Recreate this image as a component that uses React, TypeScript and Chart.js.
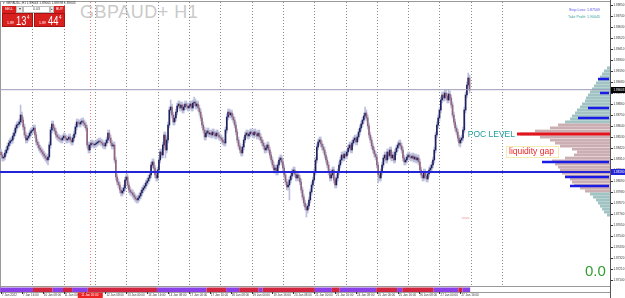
import React, { useEffect, useRef } from 'react';
import { Chart, registerables } from 'chart.js';

Chart.register(...registerables);

// ---------------- data ----------------
const SYMBOL = 'GBPAUD+';
const PERIOD = 'H1';
const HEADER_QUOTES = ['1.89043', '1.89065', '1.88998', '1.89003'];
const YEAR = '2022';
const TRADING_DAYS = ['7 Jan', '10 Jan', '11 Jan', '12 Jan', '13 Jan', '14 Jan', '17 Jan', '18 Jan', '19 Jan', '20 Jan', '21 Jan', '24 Jan', '25 Jan', '26 Jan', '27 Jan'];

const FIRST_OPEN = 1.8838;
const closes07 = [1.8835, 1.8832, 1.8833, 1.8837, 1.8840, 1.8844, 1.8847, 1.8849, 1.8850, 1.8854, 1.8857, 1.8862, 1.8865, 1.8866, 1.8868, 1.8875, 1.8870, 1.8863, 1.8855, 1.8850, 1.8852, 1.8854, 1.8857, 1.8859];
const closes10 = [1.8860, 1.8862, 1.8855, 1.8848, 1.8845, 1.8842, 1.8840, 1.8838, 1.8836, 1.8834, 1.8832, 1.8830, 1.8833, 1.8845, 1.8860, 1.8866, 1.8862, 1.8859, 1.8855, 1.8853, 1.8852, 1.8851, 1.8850, 1.8852];
const closes11 = [1.8854, 1.8852, 1.8850, 1.8851, 1.8853, 1.8850, 1.8848, 1.8852, 1.8856, 1.8863, 1.8868, 1.8867, 1.8866, 1.8868, 1.8869, 1.8867, 1.8865, 1.8862, 1.8845, 1.8840, 1.8845, 1.8847, 1.8846, 1.8845];
const closes12 = [1.8846, 1.8847, 1.8848, 1.8849, 1.8848, 1.8847, 1.8845, 1.8844, 1.8847, 1.8850, 1.8857, 1.8852, 1.8847, 1.8844, 1.8845, 1.8830, 1.8813, 1.8808, 1.8805, 1.8800, 1.8797, 1.8799, 1.8802, 1.8810];
const closes13 = [1.8813, 1.8805, 1.8800, 1.8798, 1.8797, 1.8795, 1.8793, 1.8791, 1.8790, 1.8792, 1.8794, 1.8797, 1.8800, 1.8802, 1.8804, 1.8807, 1.8809, 1.8812, 1.8815, 1.8825, 1.8828, 1.8822, 1.8815, 1.8812];
const closes14 = [1.8820, 1.8830, 1.8838, 1.8835, 1.8845, 1.8855, 1.8840, 1.8850, 1.8865, 1.8880, 1.8883, 1.8875, 1.8868, 1.8872, 1.8878, 1.8884, 1.8886, 1.8882, 1.8885, 1.8880, 1.8883, 1.8886, 1.8884, 1.8882];
const closes17 = [1.8884, 1.8886, 1.8882, 1.8887, 1.8888, 1.8884, 1.8886, 1.8882, 1.8878, 1.8872, 1.8865, 1.8860, 1.8853, 1.8857, 1.8859, 1.8856, 1.8857, 1.8855, 1.8858, 1.8856, 1.8854, 1.8857, 1.8855, 1.8853];
const closes18 = [1.8852, 1.8850, 1.8848, 1.8847, 1.8860, 1.8873, 1.8878, 1.8875, 1.8877, 1.8873, 1.8870, 1.8865, 1.8858, 1.8850, 1.8844, 1.8840, 1.8837, 1.8843, 1.8850, 1.8855, 1.8857, 1.8854, 1.8856, 1.8858];
const closes19 = [1.8857, 1.8855, 1.8858, 1.8856, 1.8854, 1.8857, 1.8853, 1.8850, 1.8847, 1.8844, 1.8840, 1.8842, 1.8845, 1.8840, 1.8835, 1.8830, 1.8825, 1.8820, 1.8822, 1.8818, 1.8825, 1.8830, 1.8832, 1.8828];
const closes20 = [1.8822, 1.8815, 1.8808, 1.8803, 1.8805, 1.8810, 1.8814, 1.8818, 1.8820, 1.8816, 1.8812, 1.8815, 1.8812, 1.8808, 1.8800, 1.8793, 1.8787, 1.8783, 1.8780, 1.8784, 1.8790, 1.8798, 1.8805, 1.8810];
const closes21 = [1.8818, 1.8830, 1.8843, 1.8848, 1.8850, 1.8846, 1.8843, 1.8840, 1.8835, 1.8830, 1.8825, 1.8818, 1.8812, 1.8815, 1.8820, 1.8810, 1.8805, 1.8812, 1.8818, 1.8825, 1.8830, 1.8835, 1.8832, 1.8836];
const closes24 = [1.8834, 1.8838, 1.8842, 1.8845, 1.8840, 1.8847, 1.8850, 1.8852, 1.8848, 1.8853, 1.8858, 1.8862, 1.8866, 1.8870, 1.8874, 1.8877, 1.8872, 1.8864, 1.8855, 1.8850, 1.8844, 1.8840, 1.8836, 1.8833];
const closes25 = [1.8825, 1.8815, 1.8812, 1.8818, 1.8825, 1.8832, 1.8835, 1.8830, 1.8838, 1.8834, 1.8840, 1.8832, 1.8835, 1.8830, 1.8838, 1.8842, 1.8845, 1.8847, 1.8844, 1.8840, 1.8832, 1.8828, 1.8830, 1.8833];
const closes26 = [1.8835, 1.8833, 1.8832, 1.8834, 1.8831, 1.8833, 1.8830, 1.8832, 1.8828, 1.8820, 1.8815, 1.8812, 1.8818, 1.8814, 1.8811, 1.8816, 1.8820, 1.8822, 1.8825, 1.8830, 1.8840, 1.8855, 1.8865, 1.8872];
const closes27 = [1.8880, 1.8890, 1.8895, 1.8892, 1.8897, 1.8894, 1.8890, 1.8896, 1.8892, 1.8885, 1.8875, 1.8868, 1.8862, 1.8858, 1.8852, 1.8847, 1.8850, 1.8852, 1.8860, 1.8880, 1.8895, 1.8905, 1.8912, 1.8900];

// bars whose wick reaches notably further than usual
const HIGH_SPIKES: Record<number, number> = { 15: 1.8885, 130: 1.8890, 148: 1.8893, 279: 1.8883, 343: 1.8900, 358: 1.8917 };
const LOW_SPIKES: Record<number, number> = { 36: 1.8825, 126: 1.8832, 221: 1.8790, 234: 1.8773, 289: 1.8807, 352: 1.8843 };
const WICK = 0.0003;

const CURRENT_PRICE = 1.89003;
const SUPPORT_LEVEL = 1.8818;
const POC_LEVEL = 1.8856;
const GAP_LEVEL = 1.88385;
const MARK_LEVEL = 1.8772;
const MARK_BARS = [353, 359];
const STOP_LOSS = '1.87509';
const TAKE_PROFIT = '1.90045';
const PROFIT = '0.0';
const LOT = '0.03';
const SELL_PRICE = ['1.89', '13', '4'];
const BUY_PRICE = ['1.89', '44', '4'];
const VLINE_BAR = 68;
const VLINE_LABEL = '11 Jan 20:00';

// volume profile (rows from PROFILE_HIGH downwards)
const PROFILE_HIGH = 1.8922;
const PROFILE_STEP = 0.0003;
const profileVolumes = [3, 6, 8, 10, 12, 14, 16, 18, 20, 22, 24, 25, 28, 30, 33, 35, 38, 40, 45, 52, 60, 75, 90, 70, 60, 55, 50, 38, 33, 36, 45, 58, 55, 52, 50, 48, 45, 40, 38, 36, 30, 25, 20, 17, 14, 12, 10, 8, 6, 3];
const VALUE_AREA_LOW = 1.8798;
const VALUE_AREA_HIGH = 1.8866;
const POC_VOLUME = 93;
const nodeLevels = [1.8911, 1.8897, 1.8882, 1.8872, 1.8828, 1.8813, 1.8804];
const nodeVolumes = [12, 10, 22, 32, 68, 45, 40];

const yTickValues = [1.8985, 1.8974, 1.8963, 1.8952, 1.8941, 1.8930, 1.8919, 1.8908, 1.8897, 1.8886, 1.8875, 1.8864, 1.8853, 1.8842, 1.8831, 1.8820, 1.8809, 1.8798, 1.8787, 1.8776, 1.8765, 1.8754, 1.8743, 1.8732, 1.8721, 1.8710];

// trend indicator strip: [startBar, endBar, direction]
const trendSegments: [number, number, string][] = [
  [0, 25, 'dn'], [25, 40, 'up'], [40, 48, 'dn'], [48, 55, 'up'], [55, 67, 'dn'], [67, 120, 'up'],
  [120, 158, 'dn'], [158, 173, 'up'], [173, 183, 'dn'], [183, 198, 'up'], [198, 201, 'dn'], [201, 241, 'up'],
  [241, 254, 'dn'], [254, 260, 'up'], [260, 288, 'dn'], [288, 304, 'up'], [304, 308, 'dn'], [308, 332, 'up'],
  [332, 351, 'dn'], [351, 354, 'up'], [354, 360, 'dn'],
];

// ---------------- derived ----------------
const closes = [...closes07, ...closes10, ...closes11, ...closes12, ...closes13, ...closes14, ...closes17, ...closes18, ...closes19, ...closes20, ...closes21, ...closes24, ...closes25, ...closes26, ...closes27];
const candles = closes.map((c, i) => {
  const o = i === 0 ? FIRST_OPEN : closes[i - 1];
  const h = HIGH_SPIKES[i] ?? Math.max(o, c) + WICK;
  const l = LOW_SPIKES[i] ?? Math.min(o, c) - WICK;
  return { i, o, h, l, c };
});
const barLabel = (i: number) => {
  const day = TRADING_DAYS[Math.floor(i / 24)];
  if (i === 0) return `${day} ${YEAR}`;
  return `${day} ${String(i % 24).padStart(2, '0')}:00`;
};

const F = '"Liberation Sans", Arial, sans-serif';
const BULL = '#1f215e';
const BEAR = '#93647d';
const WICK_COLOR = '#bcc0dc';

const mtPlugin = {
  id: 'mtDecor',
  beforeDatasetsDraw(chart: any) {
    const { ctx, chartArea: a, scales } = chart;
    const x = scales.x, y = scales.y, vol = scales.vol;
    ctx.save();
    // frame
    ctx.strokeStyle = '#9a9a9a';
    ctx.lineWidth = 1;
    ctx.beginPath();
    ctx.moveTo(0.5, a.top); ctx.lineTo(0.5, 292);
    ctx.moveTo(0, 1.5); ctx.lineTo(a.right, 1.5);
    ctx.stroke();
    // day grid
    ctx.strokeStyle = '#8a8a8a';
    ctx.setLineDash([1, 2]);
    for (let b = 24; b <= 384; b += 24) {
      const px = Math.round(x.getPixelForValue(b)) + 0.5;
      ctx.beginPath(); ctx.moveTo(px, a.top); ctx.lineTo(px, a.bottom); ctx.stroke();
    }
    // vertical line (red dotted)
    ctx.strokeStyle = '#f07878';
    const vx = Math.round(x.getPixelForValue(VLINE_BAR)) + 0.5;
    ctx.beginPath(); ctx.moveTo(vx, a.top); ctx.lineTo(vx, a.bottom); ctx.stroke();
    ctx.setLineDash([]);
    // volume profile
    profileVolumes.forEach((v, k) => {
      const p = PROFILE_HIGH - k * PROFILE_STEP;
      const t = y.getPixelForValue(p + PROFILE_STEP / 2);
      const bt = y.getPixelForValue(p - PROFILE_STEP / 2);
      const l = vol.getPixelForValue(v);
      const r = vol.getPixelForValue(0);
      const inVA = p >= VALUE_AREA_LOW && p <= VALUE_AREA_HIGH;
      ctx.fillStyle = inVA ? '#cbaeb1' : '#a2c3c3';
      ctx.fillRect(l, t, r - l, bt - t);
      if (inVA && k % 3 === 0) {
        ctx.fillStyle = 'rgba(255,255,255,0.3)';
        ctx.fillRect(l, Math.round(t), r - l, 1);
      }
    });
    ctx.restore();
  },
  afterDatasetsDraw(chart: any) {
    const { ctx, chartArea: a, scales } = chart;
    const x = scales.x, y = scales.y, vol = scales.vol;
    ctx.save();
    const hline = (p: number, x0: number, x1: number, color: string, w: number) => {
      const py = y.getPixelForValue(p);
      ctx.strokeStyle = color; ctx.lineWidth = w;
      ctx.beginPath(); ctx.moveTo(x0, py); ctx.lineTo(x1, py); ctx.stroke();
    };
    hline(CURRENT_PRICE, a.left, a.right, '#9a9ab8', 1);
    hline(SUPPORT_LEVEL, a.left, a.right, '#2323d8', 2);
    hline(POC_LEVEL, vol.getPixelForValue(POC_VOLUME), a.right, '#e3141c', 3);
    nodeLevels.forEach((p, k) => hline(p, vol.getPixelForValue(nodeVolumes[k]), a.right - 1, '#1b1be6', 2.5));
    hline(MARK_LEVEL, x.getPixelForValue(MARK_BARS[0]), x.getPixelForValue(MARK_BARS[1]), '#f4b0b0', 1);

    ctx.textBaseline = 'middle';
    ctx.font = `8.5px ${F}`;
    ctx.fillStyle = '#1f9c9c';
    ctx.textAlign = 'right';
    ctx.fillText('POC LEVEL', vol.getPixelForValue(POC_VOLUME) - 2, y.getPixelForValue(POC_LEVEL) + 0.5);
    const gy = y.getPixelForValue(GAP_LEVEL);
    ctx.strokeStyle = '#f3eeb0'; ctx.lineWidth = 1;
    ctx.strokeRect(506.5, Math.round(gy) - 5.5, 52, 11);
    ctx.fillStyle = '#e8282a';
    ctx.textAlign = 'left';
    ctx.fillText('liquidity gap', 509, gy + 0.5);
    ctx.restore();
  },
  afterDraw(chart: any) {
    const { ctx, chartArea: a, scales } = chart;
    const x = scales.x, y = scales.y;
    ctx.save();
    // price axis
    ctx.strokeStyle = '#555'; ctx.lineWidth = 1;
    ctx.beginPath(); ctx.moveTo(a.right + 0.5, 0); ctx.lineTo(a.right + 0.5, 298); ctx.stroke();
    ctx.font = `3px ${F}`;
    ctx.fillStyle = '#333';
    ctx.textAlign = 'left'; ctx.textBaseline = 'middle';
    yTickValues.forEach((v) => {
      const py = y.getPixelForValue(v);
      ctx.fillRect(a.right + 1, Math.round(py), 2, 1);
      ctx.fillText(v.toFixed(5), a.right + 3.5, py);
    });
    const box = (p: number, bg: string, label: string) => {
      const py = Math.round(y.getPixelForValue(p));
      ctx.fillStyle = bg;
      ctx.fillRect(a.right + 1, py - 3, 15, 6);
      ctx.fillStyle = '#fff';
      ctx.fillText(label, a.right + 3.5, py);
    };
    box(CURRENT_PRICE, '#000', CURRENT_PRICE.toFixed(5));
    box(SUPPORT_LEVEL, '#2323d8', SUPPORT_LEVEL.toFixed(5));

    // indicator strip
    ctx.strokeStyle = '#999';
    ctx.beginPath();
    ctx.moveTo(0, 286.5); ctx.lineTo(a.right, 286.5);
    ctx.moveTo(0, 292.5); ctx.lineTo(a.right, 292.5);
    ctx.stroke();
    trendSegments.forEach(([s, e, d]) => {
      const x0 = x.getPixelForValue(s - 0.5);
      const x1 = x.getPixelForValue(e - 0.5);
      ctx.fillStyle = d === 'up' ? '#d0243f' : '#8a40e6';
      ctx.fillRect(x0, 287.5, x1 - x0, 4.5);
    });

    // time axis
    ctx.font = `3px ${F}`;
    ctx.fillStyle = '#333';
    ctx.textAlign = 'left'; ctx.textBaseline = 'middle';
    for (let i = 0; i < closes.length; i += 16) {
      const px = x.getPixelForValue(i);
      ctx.fillRect(Math.round(px), 292, 1, 2);
      ctx.fillText(barLabel(i), px + 1, 295.5);
    }
    const vx = x.getPixelForValue(VLINE_BAR);
    ctx.fillStyle = '#ee2222';
    ctx.fillRect(vx - 12, 292.5, 25, 5.5);
    ctx.fillStyle = '#fff';
    ctx.textAlign = 'center';
    ctx.fillText(VLINE_LABEL, vx, 295.5);
    ctx.restore();
  },
};

const redBox: React.CSSProperties = { position: 'absolute', background: '#d8201e', color: '#fff', boxSizing: 'border-box' };

function PriceBox({ left, parts }: { left: number; parts: string[] }) {
  return (
    <div style={{ ...redBox, left, top: 13, width: 31, height: 14, border: '1px solid #a51212' }}>
      <span style={{ position: 'absolute', left: 4, top: 7, fontSize: 3.5, lineHeight: '4px' }}>{parts[0]}</span>
      <span style={{ position: 'absolute', left: 13, top: 0, fontSize: 13, lineHeight: '13px', transform: 'scaleX(0.72)', transformOrigin: 'left top' }}>{parts[1]}</span>
      <span style={{ position: 'absolute', left: 24, top: 1, fontSize: 4.5, lineHeight: '5px' }}>{parts[2]}</span>
    </div>
  );
}

export default function App() {
  const ref = useRef<HTMLCanvasElement>(null);
  useEffect(() => {
    document.body.style.margin = '0';
    const chart = new Chart(ref.current as HTMLCanvasElement, {
      type: 'bar',
      data: {
        datasets: [
          {
            label: 'bodies',
            data: candles.map((k) => ({ x: k.i, y: [k.o, k.c] })) as any,
            backgroundColor: candles.map((k) => (k.c >= k.o ? BULL : BEAR)),
            barThickness: 1,
            minBarLength: 1,
            grouped: false,
            borderWidth: 0,
            order: 1,
          } as any,
          {
            label: 'wicks',
            data: candles.map((k) => ({ x: k.i, y: [k.l, k.h] })) as any,
            backgroundColor: WICK_COLOR,
            barThickness: 1,
            grouped: false,
            borderWidth: 0,
            order: 2,
          } as any,
        ],
      },
      options: {
        animation: false,
        responsive: false,
        events: [],
        layout: { padding: { left: 0, top: 2, right: 15, bottom: 12 } },
        scales: {
          x: { type: 'linear', min: -0.77, max: 466.65, display: false, offset: false, grid: { offset: false } },
          y: { type: 'linear', min: 1.8704, max: 1.8988, display: false },
          vol: { type: 'linear', axis: 'x', position: 'bottom', reverse: true, min: 0, max: 610, display: false, offset: false, grid: { offset: false } },
        } as any,
        plugins: { legend: { display: false }, tooltip: { enabled: false } },
      },
      plugins: [mtPlugin],
    });
    return () => chart.destroy();
  }, []);

  return (
    <div style={{ position: 'relative', width: 625, height: 298, background: '#fff', overflow: 'hidden', fontFamily: F }}>
      <div style={{ position: 'absolute', left: 80, top: 2, fontSize: 18, lineHeight: '20px', color: '#cacaca', whiteSpace: 'nowrap', letterSpacing: 0.5 }}>
        {SYMBOL} {PERIOD}
      </div>
      <canvas ref={ref} width={625} height={298} style={{ position: 'relative', display: 'block', zIndex: 1 }} />
      <div style={{ position: 'absolute', left: 0, top: 0, width: 625, height: 298, zIndex: 2, pointerEvents: 'none' }}>
        <div style={{ position: 'absolute', left: 3, top: 1, fontSize: 3.2, lineHeight: '4px', color: '#333', whiteSpace: 'nowrap' }}>
          ▾ {SYMBOL},{PERIOD}  {HEADER_QUOTES.join(' ')}
        </div>
        <div style={{ ...redBox, left: 2, top: 6, width: 14, height: 7, fontSize: 3.5, lineHeight: '7px', textAlign: 'center' }}>SELL</div>
        <div style={{ position: 'absolute', left: 16, top: 6, width: 7, height: 7, boxSizing: 'border-box', background: '#eee', border: '1px solid #bbb', fontSize: 3.5, lineHeight: '5px', textAlign: 'center', color: '#444' }}>▾</div>
        <div style={{ position: 'absolute', left: 23, top: 6, width: 27, height: 7, boxSizing: 'border-box', background: '#fff', border: '1px solid #bbb', fontSize: 3.5, lineHeight: '5px', textAlign: 'center', color: '#444' }}>{LOT}</div>
        <div style={{ position: 'absolute', left: 50, top: 6, width: 4, height: 7, boxSizing: 'border-box', background: '#eee', border: '1px solid #bbb', fontSize: 3, lineHeight: '5px', textAlign: 'center', color: '#444' }}>▴</div>
        <div style={{ ...redBox, left: 54, top: 6, width: 11, height: 7, fontSize: 3.5, lineHeight: '7px', textAlign: 'center' }}>BUY</div>
        <PriceBox left={2} parts={SELL_PRICE} />
        <PriceBox left={34} parts={BUY_PRICE} />
        <div style={{ position: 'absolute', right: 25, top: 8, fontSize: 3.6, lineHeight: '4px', color: '#5454ee', whiteSpace: 'nowrap' }}>Stop Loss: {STOP_LOSS}</div>
        <div style={{ position: 'absolute', right: 25, top: 15, fontSize: 3.6, lineHeight: '4px', color: '#3a9f9f', whiteSpace: 'nowrap' }}>Take Profit: {TAKE_PROFIT}</div>
        <div style={{ position: 'absolute', left: 585, top: 263, fontSize: 15, lineHeight: '15px', color: '#2f9e2f' }}>{PROFIT}</div>
      </div>
    </div>
  );
}
